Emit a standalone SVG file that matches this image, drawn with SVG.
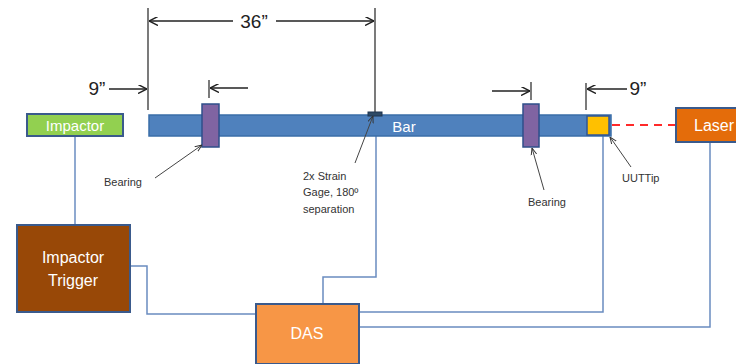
<svg xmlns="http://www.w3.org/2000/svg" width="736" height="364" viewBox="0 0 736 364">
<defs>
<marker id="ah" viewBox="0 0 10 10" refX="10" refY="5" markerWidth="9" markerHeight="9" markerUnits="userSpaceOnUse" orient="auto"><path d="M0,0 L10,5 L0,10" fill="none" stroke="#222" stroke-width="1.6"/></marker>
<marker id="ga" viewBox="0 0 10 10" refX="10" refY="5" markerWidth="7" markerHeight="7" markerUnits="userSpaceOnUse" orient="auto"><path d="M0,1 L10,5 L0,9" fill="none" stroke="#333" stroke-width="1.4"/></marker>
</defs>
<style>
.box{stroke:#3A5A8C;stroke-width:2}
.wt{font-family:"Liberation Sans",Arial,sans-serif;fill:#fff;text-anchor:middle}
.lbl{font-family:"Liberation Sans",Arial,sans-serif;fill:#333;font-size:11px}
.dim{font-family:"Liberation Sans",Arial,sans-serif;fill:#222;font-size:19px;text-anchor:middle}
.conn{fill:none;stroke:#6A8CC0;stroke-width:1.5}
.ext{stroke:#333;stroke-width:1.3;fill:none}
.da{stroke:#222;stroke-width:1.6;fill:none;marker-end:url(#ah)}
.ga{stroke:#444;stroke-width:1;fill:none;marker-end:url(#ga)}
</style>
<g id="connectors">
<path class="conn" d="M75,136 V225"/>
<path class="conn" d="M130,266 H147 V314 H256"/>
<path class="conn" d="M376,116 V277 H323 V304"/>
<path class="conn" d="M603,136 V312 H359"/>
<path class="conn" d="M710,142 V327 H359"/>
<line x1="612" y1="125" x2="676" y2="125" stroke="#FF2A2A" stroke-width="2" stroke-dasharray="8,6"/>
</g>
<g id="dimensions">
<line class="ext" x1="148" y1="8" x2="148" y2="110"/>
<line class="ext" x1="375" y1="8" x2="375" y2="112"/>
<path class="da" d="M233,21 H149"/>
<path class="da" d="M276,21 H374"/>
<text class="dim" x="254" y="28">36”</text>
<path class="da" d="M109,89 H147"/>
<text class="dim" x="97" y="95">9”</text>
<line class="ext" x1="209" y1="80" x2="209" y2="98"/>
<path class="da" d="M248,88 H210"/>
<line class="ext" x1="531" y1="82" x2="531" y2="100"/>
<path class="da" d="M492,91 H530"/>
<line class="ext" x1="586" y1="83" x2="586" y2="110"/>
<path class="da" d="M627,89 H587"/>
<text class="dim" x="638" y="95">9”</text>
</g>
<g id="bar">
<rect x="149" y="115" width="462" height="21" fill="#4F81BD" stroke="#3A6EA8" stroke-width="1.5"/>
<text class="wt" x="404" y="132" font-size="15">Bar</text>
</g>
<g id="bearing-left"><rect x="202" y="104" width="17" height="43" fill="#8064A2" stroke="#2F4F8A" stroke-width="1.5"/></g>
<g id="bearing-right"><rect x="523" y="104" width="16" height="43" fill="#8064A2" stroke="#2F4F8A" stroke-width="1.5"/></g>
<g id="strain-gage"><rect x="368" y="112" width="14" height="4" fill="#2E4A66" stroke="#1F3550" stroke-width="1"/></g>
<g id="uut-tip"><rect x="587" y="116" width="22" height="19" fill="#FFC000" stroke="#2F5597" stroke-width="1.5"/></g>
<g id="impactor">
<rect class="box" x="27" y="114" width="96" height="22" fill="#92D050"/>
<text class="wt" x="75" y="131" font-size="15">Impactor</text>
</g>
<g id="laser">
<rect class="box" x="676" y="108" width="70" height="34" fill="#E46C0A"/>
<text class="wt" x="714" y="131" font-size="16">Laser</text>
</g>
<g id="impactor-trigger">
<rect class="box" x="17" y="225" width="113" height="87" fill="#984807"/>
<text class="wt" x="73" y="263" font-size="16">Impactor</text>
<text class="wt" x="73" y="286" font-size="16">Trigger</text>
</g>
<g id="das">
<rect class="box" x="256" y="304" width="103" height="60" fill="#F79646"/>
<text class="wt" x="307" y="339" font-size="16">DAS</text>
</g>
<g id="annotations">
<path class="ga" d="M155,178 L202,145"/>
<text class="lbl" x="104" y="186">Bearing</text>
<path class="ga" d="M355,163 L373,116"/>
<text class="lbl" x="303" y="180">2x Strain</text>
<text class="lbl" x="303" y="196">Gage, 180º</text>
<text class="lbl" x="303" y="213">separation</text>
<path class="ga" d="M544,190 L532,148"/>
<text class="lbl" x="528" y="206">Bearing</text>
<path class="ga" d="M631,167 L610,137"/>
<text class="lbl" x="622" y="182">UUTTip</text>
</g>
</svg>
